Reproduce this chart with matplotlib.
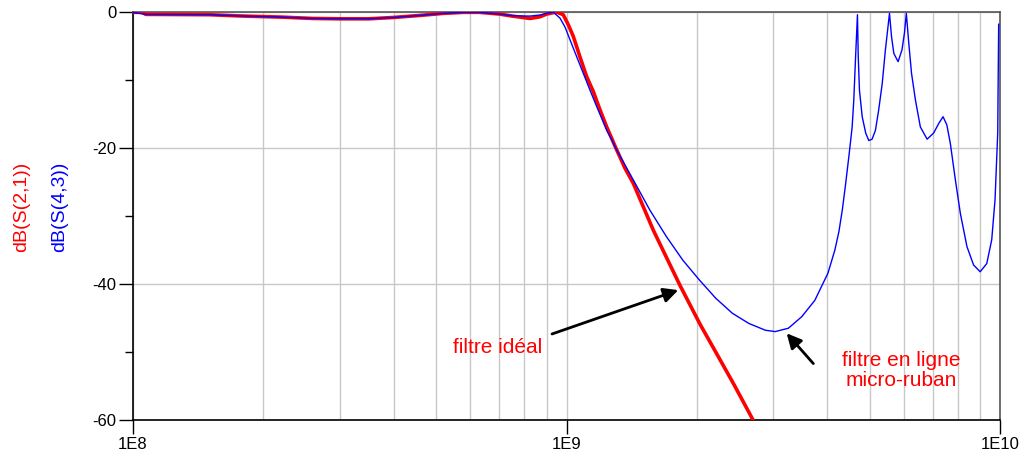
import numpy as np
import matplotlib
matplotlib.use("Agg")
import matplotlib.pyplot as plt
from matplotlib.ticker import FixedLocator, NullFormatter, LogLocator

plt.rcParams['font.family'] = ['Liberation Sans', 'DejaVu Sans']

# ---- data (frequency in Hz, level in dB) ----
red_f = [1.0e8, 1.05e8, 1.07e8, 1.5e8, 1.8e8, 2.2e8, 2.6e8, 3.0e8, 3.5e8, 4.0e8,
         4.6e8, 5.2e8, 5.8e8, 6.3e8, 7.0e8, 7.5e8, 8.24e8, 8.69e8, 9.0e8, 9.49e8,
         9.83e8, 1.01e9, 1.037e9, 1.074e9, 1.113e9, 1.153e9, 1.195e9, 1.238e9,
         1.306e9, 1.365e9, 1.426e9, 1.586e9, 1.827e9, 2.032e9, 2.2e9, 2.43e9, 2.72e9]
red_db = [-0.05, -0.05, -0.35, -0.4, -0.6, -0.75, -0.95, -1.0, -1.0, -0.8,
          -0.5, -0.2, -0.05, -0.05, -0.3, -0.6, -0.95, -0.7, -0.3, 0.0,
          -0.4, -1.9, -3.6, -6.6, -9.5, -11.7, -14.4, -16.9,
          -20.3, -23.0, -25.2, -32.1, -40.2, -45.9, -49.8, -54.7, -60.5]

blue_f = [1.0e8, 1.07e8, 1.5e8, 1.8e8, 2.2e8, 2.6e8, 3.0e8, 3.5e8, 4.0e8,
          4.6e8, 5.2e8, 5.8e8, 6.3e8, 7.0e8, 7.5e8, 8.24e8, 8.69e8, 9.0e8, 9.32e8,
          9.66e8, 9.92e8, 1.019e9, 1.056e9, 1.093e9, 1.133e9, 1.174e9, 1.238e9,
          1.272e9, 1.293e9, 1.426e9, 1.556e9, 1.699e9, 1.855e9, 2.025e9, 2.21e9,
          2.413e9, 2.634e9, 2.876e9, 3.03e9, 3.25e9, 3.49e9, 3.74e9, 4.01e9,
          4.16e9, 4.25e9, 4.33e9, 4.40e9, 4.48e9, 4.56e9, 4.60e9, 4.64e9, 4.69e9,
          4.71e9, 4.74e9, 4.81e9, 4.90e9, 4.98e9, 5.07e9, 5.16e9, 5.25e9, 5.35e9,
          5.44e9, 5.56e9, 5.62e9, 5.69e9, 5.82e9, 5.94e9, 6.02e9, 6.08e9, 6.16e9,
          6.25e9, 6.38e9, 6.55e9, 6.79e9, 7.03e9, 7.22e9, 7.39e9, 7.54e9, 7.68e9,
          7.89e9, 8.10e9, 8.39e9, 8.69e9, 9.00e9, 9.32e9, 9.57e9, 9.74e9, 9.88e9,
          9.91e9, 9.93e9]
blue_db = [-0.05, -0.35, -0.4, -0.6, -0.75, -0.95, -1.0, -1.0, -0.8,
           -0.5, -0.2, -0.05, -0.05, -0.3, -0.55, -0.6, -0.44, -0.2, 0.0,
           -0.9, -2.2, -4.1, -6.6, -9.0, -11.5, -13.9, -17.4,
           -18.8, -19.8, -24.7, -29.1, -33.0, -36.5, -39.4, -42.1,
           -44.3, -45.8, -46.8, -47.0, -46.5, -44.8, -42.4, -38.4,
           -35.0, -32.3, -29.0, -25.5, -21.3, -16.9, -12.9, -7.1, -0.4,
           -6.6, -11.5, -15.4, -17.8, -18.9, -18.7, -17.4, -14.4, -10.5,
           -5.6, -0.2, -3.6, -6.1, -7.3, -5.6, -3.1, -0.2, -4.6,
           -9.0, -12.9, -16.9, -18.7, -17.8, -16.4, -15.4, -16.6, -19.3,
           -24.7, -29.6, -34.5, -37.2, -38.2, -37.0, -33.5, -27.6, -17.8,
           -8.0, -1.8]

x_ticks = [1e8, 1e9, 1e10]
x_ticklabels = ['1E8', '1E9', '1E10']
y_ticks = [0, -20, -40, -60]
y_ticklabels = ['0', '-20', '-40', '-60']

W, H = 1027, 455
fig = plt.figure(figsize=(W / 100, H / 100), dpi=100)
ax = fig.add_axes([133 / W, 1 - 420 / H, (1000 - 133) / W, (420 - 12) / H])

ax.plot(red_f, red_db, color='#ff0000', lw=2.6, solid_capstyle='butt', zorder=3)
ax.plot(blue_f, blue_db, color='#0000ff', lw=1.0, zorder=4)

ax.set_xscale('log')
ax.set_xlim(1e8, 1e10)
ax.set_ylim(-60, 0)

ax.xaxis.set_major_locator(FixedLocator(x_ticks))
ax.set_xticklabels(x_ticklabels)
ax.xaxis.set_minor_locator(LogLocator(base=10, subs=np.arange(2, 10)))
ax.xaxis.set_minor_formatter(NullFormatter())
ax.yaxis.set_major_locator(FixedLocator(y_ticks))
ax.set_yticklabels(y_ticklabels)
ax.yaxis.set_minor_locator(FixedLocator([-10, -30, -50]))

ax.tick_params(axis='both', which='major', labelsize=12, direction='out', length=10,
               width=1, color='black', pad=2)
ax.tick_params(axis='x', which='minor', length=0)
ax.tick_params(axis='y', which='minor', length=6, width=1, color='black')

ax.grid(True, which='both', axis='x', color='#c8c8c8', lw=1)
ax.grid(True, which='major', axis='y', color='#c8c8c8', lw=1)
ax.set_axisbelow(True)

for side in ['left', 'bottom']:
    ax.spines[side].set_color('black')
    ax.spines[side].set_linewidth(1.2)
for side in ['top', 'right']:
    ax.spines[side].set_color('#555555')
    ax.spines[side].set_linewidth(1.2)

# y-axis labels (two series names)
fig.text(22 / W, 1 - 207 / H, 'dB(S(2,1))', color='#ff0000', rotation=90,
         ha='center', va='center', fontsize=14)
fig.text(60 / W, 1 - 207 / H, 'dB(S(4,3))', color='#0000ff', rotation=90,
         ha='center', va='center', fontsize=14)

# annotations
ax.text(6.95e8, -49.3, 'filtre idéal', color='#ff0000', fontsize=15,
        ha='center', va='center')
ax.annotate('', xy=(1.811e9, -40.9), xytext=(9.26e8, -47.35),
            arrowprops=dict(arrowstyle='-|>', color='black', lw=2,
                            mutation_scale=22, shrinkA=0, shrinkB=0))
ax.text(5.93e9, -52.7, 'filtre en ligne\nmicro-ruban', color='#ff0000',
        fontsize=15, ha='center', va='center', linespacing=1.1)
ax.annotate('', xy=(3.22e9, -47.25), xytext=(3.71e9, -51.7),
            arrowprops=dict(arrowstyle='-|>', color='black', lw=2,
                            mutation_scale=22, shrinkA=0, shrinkB=0))

fig.savefig('out.png', dpi=100)
